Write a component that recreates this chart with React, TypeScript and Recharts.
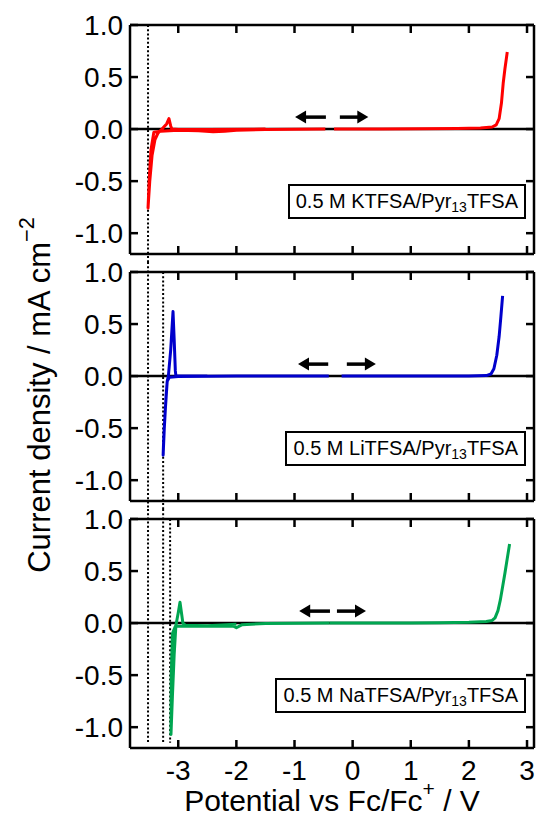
import React from 'react';
import { LineChart, Line, XAxis, YAxis, ReferenceLine } from 'recharts';

// potential (V vs Fc/Fc+) / current density (mA cm-2)
const xTicks = [-3, -2, -1, 0, 1, 2, 3];
const yTicks = [-1, -0.5, 0, 0.5, 1];
const salts = ['KTFSA', 'LiTFSA', 'NaTFSA'];
const colors = ['#ff0000', '#0000cc', '#00a651'];
const onsets = [-3.52, -3.26, -3.14];

const kAnodic = [
  [-0.32, 0], [0.5, 0], [1.2, 0.003], [1.8, 0.006], [2.2, 0.01], [2.4, 0.02], [2.47, 0.04],
  [2.52, 0.1], [2.56, 0.25], [2.59, 0.44], [2.62, 0.58], [2.66, 0.74],
];
const kCathodic = [
  [-0.47, 0], [-1.5, -0.005], [-2.0, -0.01], [-2.2, -0.02], [-2.4, -0.025], [-2.65, -0.015],
  [-3.0, -0.01], [-3.3, -0.02], [-3.42, -0.03], [-3.47, -0.2], [-3.5, -0.5], [-3.52, -0.76],
  [-3.49, -0.5], [-3.45, -0.25], [-3.4, -0.1], [-3.35, -0.04], [-3.28, 0.0], [-3.2, 0.05],
  [-3.16, 0.1], [-3.13, 0.03], [-3.11, 0.0], [-3.0, -0.005], [-2.5, -0.005], [-1.5, 0],
];
const liAnodic = [
  [-0.19, 0], [1.0, 0], [2.0, 0.002], [2.3, 0.005], [2.38, 0.02], [2.43, 0.07], [2.48, 0.2],
  [2.52, 0.38], [2.55, 0.57], [2.58, 0.77],
];
const liCathodic = [
  [-0.41, 0], [-2.0, 0], [-3.0, -0.005], [-3.15, -0.01], [-3.19, -0.05], [-3.22, -0.3],
  [-3.25, -0.6], [-3.26, -0.76], [-3.24, -0.5], [-3.21, -0.2], [-3.19, -0.05], [-3.17, 0.0],
  [-3.13, 0.25], [-3.09, 0.62], [-3.07, 0.35], [-3.05, 0.05], [-3.04, 0.0], [-2.5, 0],
];
const naAnodic = [
  [-0.4, 0], [1.0, 0.002], [1.5, 0.003], [2.0, 0.008], [2.3, 0.015], [2.4, 0.025], [2.45, 0.05],
  [2.5, 0.12], [2.54, 0.22], [2.58, 0.35], [2.62, 0.48], [2.66, 0.62], [2.7, 0.76],
];
const naCathodic = [
  [-0.4, 0], [-1.5, -0.005], [-1.9, -0.015], [-2.0, -0.045], [-2.05, -0.03], [-2.5, -0.03],
  [-2.9, -0.03], [-3.05, -0.03], [-3.1, -0.1], [-3.12, -0.5], [-3.125, -1.07], [-3.1, -0.7],
  [-3.07, -0.3], [-3.04, -0.02], [-3.0, 0.1], [-2.97, 0.2], [-2.94, 0.08], [-2.92, 0.0],
  [-2.88, -0.02], [-2.5, -0.025], [-2.0, -0.01],
];
// scan-direction arrows: [tail, head] potentials
const arrowsK = [[-0.46, -0.99], [-0.22, 0.27]];
const arrowsLi = [[-0.42, -0.94], [-0.1, 0.4]];
const arrowsNa = [[-0.39, -0.92], [-0.27, 0.23]];
const arrowY = 0.115;

const toPts = (arr: number[][]) => arr.map(([x, y]) => ({ x, y }));

const panels = [
  { anodic: kAnodic, cathodic: kCathodic, arrows: arrowsK },
  { anodic: liAnodic, cathodic: liCathodic, arrows: arrowsLi },
  { anodic: naAnodic, cathodic: naCathodic, arrows: arrowsNa },
];

const FONT = '"Liberation Sans", Arial, Helvetica, sans-serif';
const xDomain = [-3.83, 3.12];
const yDomain = [-1.2, 1.0];
const PLOT_W = 404;
const PLOT_H = 229;
const axisStroke = { stroke: '#000', strokeWidth: 2.5 };
const tickText = { fill: '#000', fontSize: 28, fontFamily: FONT };
// inward tick length (8 px) expressed in data units
const tx = (8 * (xDomain[1] - xDomain[0])) / PLOT_W;
const ty = (8 * (yDomain[1] - yDomain[0])) / PLOT_H;

const Arrow = (p: any) => {
  const { x1, y1, x2, y2 } = p;
  const dx = x2 - x1;
  const dy = y2 - y1;
  const len = Math.hypot(dx, dy) || 1;
  const ux = dx / len;
  const uy = dy / len;
  const hl = 11;
  const hw = 6.5;
  const bx = x2 - ux * hl;
  const by = y2 - uy * hl;
  return (
    <g>
      <line x1={x1} y1={y1} x2={bx + ux} y2={by + uy} stroke="#000" strokeWidth={3.5} />
      <polygon
        points={`${x2},${y2} ${bx - uy * hw},${by + ux * hw} ${bx + uy * hw},${by - ux * hw}`}
        fill="#000"
      />
    </g>
  );
};

const tickSegments = [
  ...xTicks.flatMap((v) => [
    [{ x: v, y: yDomain[1] }, { x: v, y: yDomain[1] - ty }],
    [{ x: v, y: yDomain[0] }, { x: v, y: yDomain[0] + ty }],
  ]),
  ...yTicks.flatMap((v) => [
    [{ x: xDomain[0], y: v }, { x: xDomain[0] + tx, y: v }],
    [{ x: xDomain[1], y: v }, { x: xDomain[1] - tx, y: v }],
  ]),
];

// plot area: 229 px tall, 20 px margin above, 18 px below (charts overlap in the gaps)
function Panel({ idx, plotTop }: { idx: number; plotTop: number }) {
  const p = panels[idx];
  const last = idx === panels.length - 1;
  const height = last ? 20 + PLOT_H + 78 : 20 + PLOT_H + 18;
  const color = colors[idx];
  return (
    <div style={{ position: 'absolute', left: 0, top: plotTop - 20, width: 536, height }}>
      <LineChart
        width={536}
        height={height}
        margin={{ top: 19, right: 1, bottom: last ? 0 : 17, left: 0 }}
      >
        <XAxis
          dataKey="x"
          type="number"
          domain={xDomain}
          allowDataOverflow
          ticks={xTicks}
          interval={0}
          height={last ? 78 : 1}
          tickSize={0}
          tickMargin={12}
          axisLine={axisStroke}
          tickLine={false}
          tick={last ? tickText : false}
        />
        <XAxis
          xAxisId="t"
          orientation="top"
          dataKey="x"
          type="number"
          domain={xDomain}
          allowDataOverflow
          height={1}
          axisLine={axisStroke}
          tickLine={false}
          tick={false}
        />
        <YAxis
          type="number"
          domain={yDomain}
          allowDataOverflow
          ticks={yTicks}
          interval={0}
          width={130}
          tickSize={0}
          tickMargin={7}
          axisLine={axisStroke}
          tickLine={false}
          tick={tickText}
          tickFormatter={(v: number) => v.toFixed(1)}
        />
        <YAxis
          yAxisId="r"
          orientation="right"
          type="number"
          domain={yDomain}
          allowDataOverflow
          width={1}
          axisLine={axisStroke}
          tickLine={false}
          tick={false}
        />
        {tickSegments.map((seg, i) => (
          <ReferenceLine
            key={'t' + i}
            ifOverflow="visible"
            segment={seg}
            stroke="#000"
            strokeWidth={2.5}
          />
        ))}
        <ReferenceLine y={0} stroke="#000" strokeWidth={2.5} />
        {onsets.slice(0, idx + 1).map((v, i) => (
          <ReferenceLine
            key={'o' + i}
            ifOverflow="visible"
            segment={[
              { x: v, y: i < idx ? 1.096 : 1.0 },
              { x: v, y: last ? -1.15 : -1.277 },
            ]}
            stroke="#000"
            strokeWidth={2}
            strokeDasharray="2 2.2"
          />
        ))}
        <Line
          data={toPts(p.cathodic)}
          dataKey="y"
          stroke={color}
          strokeWidth={3}
          dot={false}
          strokeLinejoin="round"
          isAnimationActive={false}
        />
        <Line
          data={toPts(p.anodic)}
          dataKey="y"
          stroke={color}
          strokeWidth={3}
          dot={false}
          strokeLinejoin="round"
          isAnimationActive={false}
        />
        {p.arrows.map(([a, b], i) => (
          <ReferenceLine
            key={'a' + i}
            segment={[{ x: a, y: arrowY }, { x: b, y: arrowY }]}
            shape={Arrow}
          />
        ))}
      </LineChart>
      <div
        style={{
          position: 'absolute',
          right: 10,
          top: 179,
          border: '2px solid #000',
          padding: '3px 6px',
          fontFamily: FONT,
          fontSize: 20,
          lineHeight: '25px',
          background: '#fff',
          whiteSpace: 'nowrap',
        }}
      >
        0.5 M {salts[idx]}/Pyr
        <sub style={{ fontSize: '0.7em', verticalAlign: '-0.3em', lineHeight: 0 }}>13</sub>
        TFSA
      </div>
    </div>
  );
}

export default function App() {
  return (
    <div
      style={{
        position: 'absolute',
        left: 0,
        top: 0,
        width: 536,
        height: 827,
        background: '#fff',
        overflow: 'hidden',
      }}
    >
      <Panel idx={0} plotTop={25} />
      <Panel idx={1} plotTop={272} />
      <Panel idx={2} plotTop={519} />
      <div
        style={{
          position: 'absolute',
          left: 40 - 250,
          top: 395 - 18,
          width: 500,
          height: 36,
          lineHeight: '36px',
          textAlign: 'center',
          transform: 'rotate(-90deg)',
          fontFamily: FONT,
          fontSize: 31,
          whiteSpace: 'nowrap',
        }}
      >
        Current density / mA cm
        <sup style={{ fontSize: '0.7em', verticalAlign: '0.75em', lineHeight: 0 }}>−2</sup>
      </div>
      <div
        style={{
          position: 'absolute',
          left: 332 - 300,
          top: 783,
          width: 600,
          height: 36,
          lineHeight: '36px',
          textAlign: 'center',
          fontFamily: FONT,
          fontSize: 30,
          whiteSpace: 'nowrap',
        }}
      >
        Potential vs Fc/Fc
        <sup style={{ fontSize: '0.7em', verticalAlign: '0.7em', lineHeight: 0 }}>+</sup> / V
      </div>
    </div>
  );
}
